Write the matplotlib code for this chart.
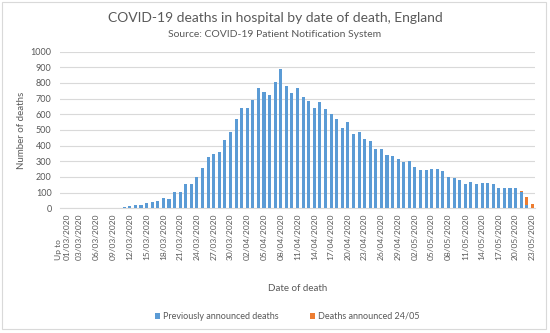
import datetime as dt
import numpy as np
import matplotlib
matplotlib.use("Agg")
import matplotlib.pyplot as plt
from matplotlib.patches import Rectangle

plt.rcParams['font.family'] = ['Lato', 'DejaVu Sans']

# daily deaths, index 0 is "Up to 01/03/2020", then 01/03 ... 23/05
previous = [0, 0, 1, 0, 1, 1, 2, 1, 4, 2,
            4, 10, 15, 19, 23, 31, 42, 47, 66, 62,
            104, 101, 152, 158, 199, 257, 326, 345, 357, 436,
            489, 570, 638, 638, 692, 770, 741, 721, 804, 887,
            781, 734, 766, 713, 687, 643, 681, 632, 600, 570,
            511, 553, 472, 487, 443, 430, 379, 377, 340, 336,
            315, 298, 302, 262, 245, 245, 249, 249, 236, 198,
            192, 181, 155, 170, 153, 164, 160, 155, 128, 128,
            127, 128, 106, 20, 3]
announced = [0] * 80 + [1, 4, 7, 50, 25]

dates = ["Up to\n01/03/2020"]
start = dt.date(2020, 3, 1)
for k in range(1, len(previous)):
    dates.append((start + dt.timedelta(days=k - 1)).strftime("%d/%m/%Y"))

GREY = "#595959"
BLUE = "#5B9BD5"
ORANGE = "#ED7D31"

fig = plt.figure(figsize=(5.5, 3.33), dpi=100)
fig.patches.append(Rectangle((0.004, 0.012), 0.988, 0.982, transform=fig.transFigure,
                             fill=False, edgecolor="#D9D9D9", lw=0.8))
ax = fig.add_axes([0.109, 0.3745, 0.864, 0.4705])

x = np.arange(len(previous))
ax.bar(x, previous, width=0.55, color=BLUE, label="Previously announced deaths", zorder=3)
ax.bar(x, announced, width=0.55, bottom=previous, color=ORANGE,
       label="Deaths announced 24/05", zorder=3)

ax.set_xlim(-0.5, len(previous) - 0.5)
ax.set_ylim(0, 1000)
ax.set_yticks(range(0, 1001, 100))
ax.yaxis.grid(True, color="#D9D9D9", lw=0.8, zorder=0)
for s in ["top", "right", "left"]:
    ax.spines[s].set_visible(False)
ax.spines["bottom"].set_color("#D9D9D9")
ax.tick_params(length=0, colors=GREY)
ax.tick_params(axis="y", labelsize=6.5, pad=6)

ticks = x[::3]
ax.set_xticks(ticks)
ax.set_xticklabels([dates[i] for i in ticks], rotation=90, fontsize=6,
                   va="top", ha="center", multialignment="left")

ax.set_ylabel("Number of deaths", fontsize=7, color=GREY, labelpad=3)
fig.text(0.541, 0.125, "Date of death", ha="center", fontsize=7, color=GREY)

fig.text(0.5, 0.935, "COVID-19 deaths in hospital by date of death, England",
         ha="center", fontsize=10, color=GREY)
fig.text(0.5, 0.888, "Source: COVID-19 Patient Notification System",
         ha="center", fontsize=7.5, color=GREY)

fig.legend(loc="center", bbox_to_anchor=(0.522, 0.05), ncol=2, frameon=False,
           fontsize=6.5, labelcolor=GREY, handlelength=0.6, handleheight=0.6,
           handletextpad=0.3, columnspacing=3.5)

fig.savefig("out.png", dpi=100)
